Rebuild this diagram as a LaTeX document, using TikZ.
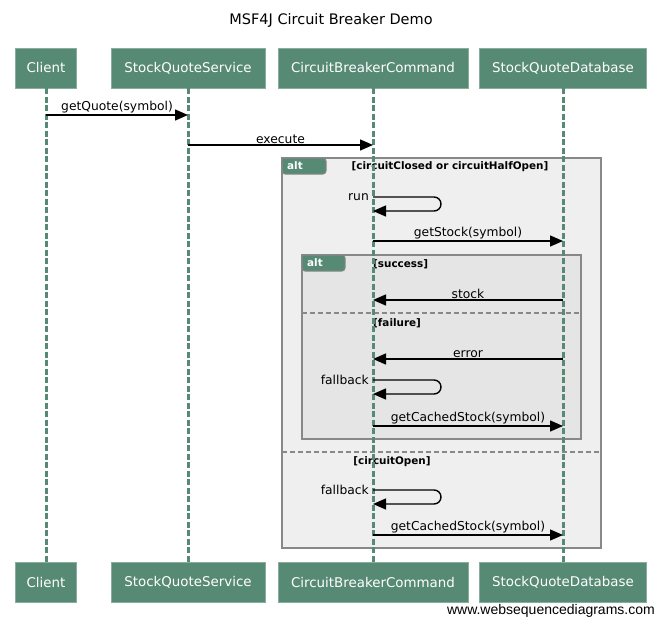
\documentclass[tikz,border=0pt]{standalone}
\usepackage{fontspec}
\setmainfont{DejaVu Sans}
\newfontfamily\footfont{Liberation Sans}
\usetikzlibrary{arrows.meta,positioning}
\definecolor{wsdgreen}{RGB}{86,138,117}
\definecolor{framegray}{RGB}{136,136,136}
\definecolor{outerfill}{RGB}{239,239,239}
\definecolor{innerfill}{RGB}{229,229,229}
\newcommand{\lbl}{\fontsize{12.3}{14}\selectfont}
\newcommand{\grd}{\fontsize{10.4}{13}\selectfont\bfseries}
\begin{document}
\begin{tikzpicture}[x=1pt, y=-1pt,
    actor/.style={fill=wsdgreen, draw=wsdgreen!70!white, line width=0.8pt, text=white, minimum height=40pt, inner sep=2pt, font=\fontsize{13.4}{15}\selectfont},
    life/.style={wsdgreen, line width=3pt, dash pattern=on 6pt off 2.5pt},
    msg/.style={line width=1.4pt, -{Triangle[length=13pt,width=11pt]}},
    lab/.style={font=\lbl, anchor=south, inner sep=1pt},
    guard/.style={font=\grd, inner sep=1pt},
    frame/.style={draw=framegray, line width=1.6pt},
    sep/.style={framegray, line width=1.4pt, dash pattern=on 5pt off 3pt},
    tag/.style={fill=wsdgreen, draw=framegray, line width=1pt, rounded corners=3pt}]
    \useasboundingbox (0,0) rectangle (663,626);

    % title
    \node[font=\fontsize{14.5}{16}\selectfont] (title) at (331,20) {MSF4J Circuit Breaker Demo};

    % alt frames
    \draw[frame, fill=outerfill] (282,158) rectangle (601,548);
    \draw[tag] (282,158) -- (326,158) -- (326,174) -- (282,174) [sharp corners] -- cycle;
    \node[font=\grd, text=white, anchor=west, inner sep=1pt] (alt1) at (286,166) {alt};
    \node[guard] (g1) at (450,167) {[circuitClosed or circuitHalfOpen]};
    \draw[frame, fill=innerfill] (302,255) rectangle (581,439);
    \draw[tag] (302,255) -- (345,255) -- (345,271) -- (302,271) [sharp corners] -- cycle;
    \node[font=\grd, text=white, anchor=west, inner sep=1pt] (alt2) at (306,263) {alt};
    \node[guard, anchor=west] (g2) at (372,264) {[success]};
    \draw[sep] (302,313) -- (581,313);
    \node[guard, anchor=west] (g3) at (372,323) {[failure]};
    \draw[sep] (282,452) -- (601,452);
    \node[guard] (g4) at (392,462) {[circuitOpen]};

    % participants
    \node[actor, minimum width=61pt] (client) at (46,68) {Client};
    \node[actor, minimum width=154pt] (sqs) at (188,68) {StockQuoteService};
    \node[actor, minimum width=190pt] (cbc) at (373,68) {CircuitBreakerCommand};
    \node[actor, minimum width=167pt] (sqd) at (563,68) {StockQuoteDatabase};
    \node[actor, minimum width=61pt] (client2) at (46,582) {Client};
    \node[actor, minimum width=154pt] (sqs2) at (188,582) {StockQuoteService};
    \node[actor, minimum width=190pt] (cbc2) at (373,582) {CircuitBreakerCommand};
    \node[actor, minimum width=167pt] (sqd2) at (563,582) {StockQuoteDatabase};

    \draw[life] (client) -- (client2);
    \draw[life] (sqs) -- (sqs2);
    \draw[life] (cbc) -- (cbc2);
    \draw[life] (sqd) -- (sqd2);

    % message rows
    \coordinate (r1) at (0,115);
    \coordinate (r2) at (0,145);
    \coordinate (r3) at (0,197);
    \coordinate (r4) at (0,241);
    \coordinate (r5) at (0,300);
    \coordinate (r6) at (0,359);
    \coordinate (r7) at (0,380);
    \coordinate (r8) at (0,426);
    \coordinate (r9) at (0,490);
    \coordinate (r10) at (0,535);

    \draw[msg] (client |- r1) -- node[lab] {getQuote(symbol)} (sqs |- r1);
    \draw[msg] (sqs |- r2) -- node[lab] {execute} (cbc |- r2);
    \draw[msg, rounded corners=7pt] (cbc |- r3) -- ++(68,0) -- ++(0,14) -- ([yshift=-14pt]cbc |- r3);
    \node[font=\lbl, anchor=east, inner sep=1pt] (run) at ([xshift=-3pt]cbc |- r3) {run};
    \draw[msg] (cbc |- r4) -- node[lab] {getStock(symbol)} (sqd |- r4);
    \draw[msg] (sqd |- r5) -- node[lab] {stock} (cbc |- r5);
    \draw[msg] (sqd |- r6) -- node[lab] {error} (cbc |- r6);
    \draw[msg, rounded corners=7pt] (cbc |- r7) -- ++(68,0) -- ++(0,14) -- ([yshift=-14pt]cbc |- r7);
    \node[font=\lbl, anchor=east, inner sep=1pt] (fb1) at ([xshift=-3pt]cbc |- r7) {fallback};
    \draw[msg] (cbc |- r8) -- node[lab] {getCachedStock(symbol)} (sqd |- r8);
    \draw[msg, rounded corners=7pt] (cbc |- r9) -- ++(68,0) -- ++(0,14) -- ([yshift=-14pt]cbc |- r9);
    \node[font=\lbl, anchor=east, inner sep=1pt] (fb2) at ([xshift=-3pt]cbc |- r9) {fallback};
    \draw[msg] (cbc |- r10) -- node[lab] {getCachedStock(symbol)} (sqd |- r10);

    % footer
    \node[font=\footfont\fontsize{14}{16}\selectfont, anchor=east, inner sep=0pt] (foot) at (655,611) {www.websequencediagrams.com};
  \end{tikzpicture}
\end{document}
